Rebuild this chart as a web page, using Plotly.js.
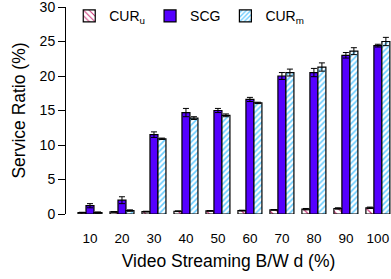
<!DOCTYPE html>
<html>
<head>
<meta charset="utf-8">
<script src="https://cdn.plot.ly/plotly-3.0.1.min.js"></script>
<style>html,body{margin:0;padding:0;background:#fff;}#chart{width:391px;height:279px;}</style>
</head>
<body>
<div id="chart"></div>
<script>
const categories = ['10','20','30','40','50','60','70','80','90','100'];
const curU = [0.2, 0.3, 0.35, 0.4, 0.45, 0.5, 0.6, 0.7, 0.8, 0.9];
const curUErr = [0.05, 0.05, 0.05, 0.05, 0.05, 0.05, 0.05, 0.1, 0.1, 0.1];
const scg = [1.2, 2.0, 11.5, 14.7, 15.0, 16.6, 20.0, 20.5, 23.0, 24.4];
const scgErr = [0.3, 0.5, 0.4, 0.6, 0.3, 0.3, 0.5, 0.6, 0.4, 0.2];
const curM = [0.2, 0.5, 10.9, 13.9, 14.3, 16.1, 20.5, 21.3, 23.6, 25.0];
const curMErr = [0.1, 0.1, 0.1, 0.2, 0.2, 0.1, 0.5, 0.6, 0.5, 0.6];
const seriesNames = ['CUR<sub>u</sub>', 'SCG', 'CUR<sub>m</sub>'];
const yTicks = [0, 5, 10, 15, 20, 25, 30];

const font = 'Liberation Sans, Arial, sans-serif';
const eb = (arr) => ({type: 'data', array: arr, visible: true, color: '#000', thickness: 1, width: 3});
const line = {color: '#000', width: 1.2};

const traces = [
  {type: 'bar', name: seriesNames[0], x: categories, y: curU, error_y: eb(curUErr),
   marker: {color: '#fff', line: line, pattern: {shape: '\\', fgcolor: '#cc3377', bgcolor: '#fff', size: 5, solidity: 0.25}}},
  {type: 'bar', name: seriesNames[1], x: categories, y: scg, error_y: eb(scgErr),
   marker: {color: '#5500ff', line: line}},
  {type: 'bar', name: seriesNames[2], x: categories, y: curM, error_y: eb(curMErr),
   marker: {color: '#fff', line: line, pattern: {shape: '/', fgcolor: '#66ccff', bgcolor: '#fff', size: 4, solidity: 0.4}}}
];

const layout = {
  width: 391, height: 279,
  margin: {l: 66, r: 0, t: 7, b: 65, pad: 0},
  paper_bgcolor: '#fff', plot_bgcolor: '#fff',
  barmode: 'group', bargap: 0.25, bargroupgap: 0,
  font: {family: font, color: '#000', size: 13},
  showlegend: true,
  legend: {orientation: 'h', x: 0.01, xanchor: 'left', y: 0.955, yanchor: 'middle',
           bgcolor: 'rgba(0,0,0,0)', font: {size: 14, family: font}, traceorder: 'normal', itemwidth: 30},
  xaxis: {type: 'category', range: [-0.75, 9.41], showline: false, ticks: '', showgrid: false, zeroline: false,
          tickfont: {size: 13.5}, ticklabelstandoff: 14,
          title: {text: 'Video Streaming B/W d (%)', font: {size: 17.5}, standoff: 10}},
  yaxis: {range: [0, 30], tickvals: yTicks, ticktext: yTicks.map(String), showline: true, linecolor: '#000', linewidth: 1,
          ticks: 'outside', ticklen: 7, tickcolor: '#000', showgrid: false, zeroline: false, ticklabeloverflow: 'allow',
          tickfont: {size: 14}, title: {text: 'Service Ratio (%)', font: {size: 17.5}, standoff: 9}}
};

Plotly.newPlot('chart', traces, layout, {displayModeBar: false, staticPlot: true});
</script>
</body>
</html>
